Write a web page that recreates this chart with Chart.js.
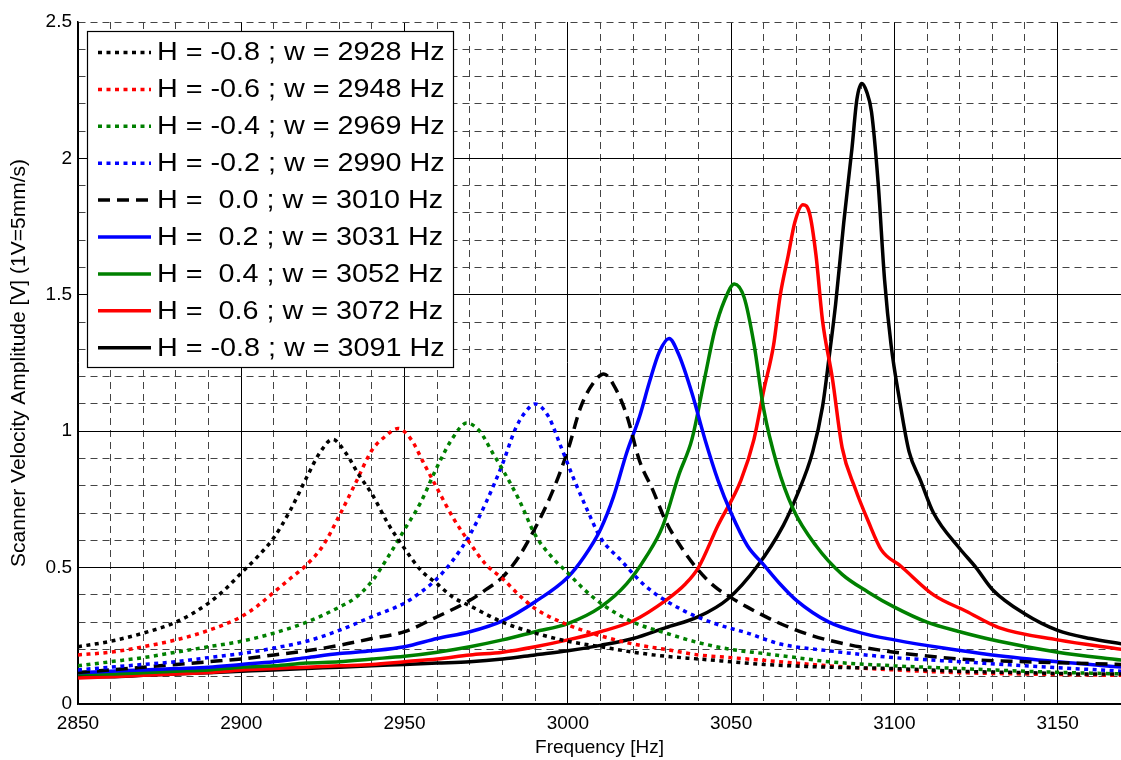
<!DOCTYPE html>
<html>
<head>
<meta charset="utf-8">
<title>Scanner velocity vs frequency</title>
<script src="https://cdn.jsdelivr.net/npm/chart.js@4"></script>
<style>
    body { margin: 0; background: #fff; }
    canvas { display: block; }
</style>
</head>
<body>
<canvas id="chart" width="1121" height="760"></canvas>
<script>
// 📊 data: [frequency Hz, amplitude V]
const curveM08 = [[2850,0.21],[2860,0.23],[2870,0.26],[2880,0.30],[2890,0.37],[2895,0.42],[2900,0.48],[2905,0.54],[2910,0.61],[2915,0.71],[2920,0.83],[2924,0.92],[2928,0.97],[2932,0.92],[2936,0.84],[2940,0.77],[2945,0.66],[2950,0.57],[2955,0.49],[2960,0.44],[2965,0.39],[2970,0.36],[2980,0.30],[2990,0.26],[3000,0.23],[3010,0.21],[3020,0.19],[3030,0.175],[3040,0.165],[3050,0.155],[3060,0.145],[3080,0.135],[3100,0.13],[3120,0.12],[3140,0.115],[3160,0.11],[3170,0.11]];
const curveM06 = [[2850,0.18],[2860,0.19],[2870,0.21],[2880,0.235],[2890,0.27],[2900,0.32],[2905,0.36],[2910,0.41],[2915,0.46],[2920,0.51],[2925,0.58],[2930,0.69],[2935,0.81],[2940,0.93],[2944,0.98],[2948,1.01],[2952,0.97],[2956,0.88],[2960,0.79],[2965,0.68],[2970,0.59],[2975,0.51],[2980,0.46],[2985,0.40],[2990,0.35],[3000,0.29],[3010,0.25],[3020,0.22],[3030,0.20],[3040,0.18],[3050,0.17],[3060,0.16],[3080,0.14],[3100,0.125],[3120,0.115],[3140,0.11],[3170,0.105]];
const curveM04 = [[2850,0.14],[2860,0.155],[2870,0.17],[2880,0.19],[2890,0.21],[2900,0.23],[2910,0.26],[2920,0.30],[2930,0.355],[2935,0.39],[2940,0.45],[2945,0.54],[2950,0.64],[2955,0.74],[2960,0.87],[2965,0.98],[2969,1.03],[2973,1.0],[2977,0.92],[2980,0.86],[2985,0.75],[2990,0.62],[2995,0.54],[3000,0.48],[3005,0.42],[3010,0.37],[3020,0.30],[3030,0.26],[3040,0.225],[3050,0.20],[3060,0.185],[3070,0.17],[3080,0.155],[3100,0.14],[3120,0.13],[3140,0.12],[3170,0.11]];
const curveM02 = [[2850,0.125],[2860,0.135],[2870,0.145],[2880,0.155],[2890,0.17],[2900,0.185],[2910,0.205],[2920,0.23],[2930,0.27],[2940,0.32],[2950,0.37],[2955,0.41],[2960,0.46],[2965,0.53],[2970,0.62],[2975,0.74],[2980,0.88],[2984,1.01],[2987,1.07],[2990,1.10],[2994,1.055],[2998,0.94],[3002,0.82],[3006,0.71],[3010,0.61],[3016,0.53],[3024,0.43],[3035,0.345],[3045,0.295],[3055,0.26],[3065,0.22],[3080,0.195],[3100,0.17],[3120,0.155],[3140,0.14],[3170,0.12]];
const curve00 = [[2850,0.115],[2860,0.125],[2870,0.135],[2880,0.145],[2890,0.155],[2900,0.165],[2910,0.18],[2920,0.195],[2930,0.215],[2940,0.24],[2950,0.265],[2960,0.32],[2970,0.38],[2975,0.42],[2980,0.465],[2985,0.54],[2990,0.645],[2995,0.77],[3000,0.93],[3004,1.09],[3008,1.18],[3011,1.21],[3014,1.17],[3018,1.06],[3022,0.89],[3026,0.785],[3030,0.67],[3035,0.57],[3040,0.49],[3045,0.43],[3050,0.39],[3055,0.355],[3065,0.295],[3075,0.25],[3085,0.22],[3100,0.19],[3120,0.165],[3140,0.155],[3170,0.145]];
const curveP02 = [[2850,0.115],[2860,0.12],[2870,0.125],[2880,0.13],[2890,0.135],[2900,0.145],[2910,0.155],[2920,0.17],[2930,0.185],[2940,0.195],[2950,0.21],[2960,0.24],[2970,0.265],[2980,0.305],[2990,0.375],[3000,0.465],[3005,0.54],[3010,0.64],[3014,0.76],[3018,0.92],[3022,1.055],[3025,1.18],[3028,1.29],[3031,1.34],[3034,1.28],[3038,1.14],[3042,0.97],[3046,0.82],[3050,0.70],[3055,0.58],[3060,0.51],[3065,0.44],[3070,0.38],[3080,0.30],[3090,0.26],[3100,0.235],[3115,0.205],[3130,0.18],[3150,0.155],[3170,0.135]];
const curveP04 = [[2850,0.11],[2860,0.11],[2870,0.115],[2880,0.12],[2890,0.125],[2900,0.135],[2910,0.14],[2920,0.15],[2930,0.155],[2940,0.165],[2950,0.175],[2960,0.19],[2970,0.21],[2980,0.235],[2990,0.265],[3000,0.295],[3010,0.355],[3018,0.44],[3024,0.54],[3029,0.65],[3034,0.84],[3038,0.97],[3042,1.20],[3045,1.37],[3048,1.48],[3051,1.54],[3054,1.49],[3057,1.32],[3060,1.08],[3064,0.88],[3069,0.715],[3076,0.58],[3084,0.475],[3092,0.41],[3100,0.355],[3110,0.30],[3120,0.265],[3132,0.23],[3150,0.19],[3170,0.16]];
const curveP06 = [[2850,0.095],[2860,0.10],[2870,0.105],[2880,0.11],[2890,0.115],[2900,0.125],[2910,0.13],[2920,0.135],[2930,0.14],[2940,0.145],[2950,0.155],[2960,0.165],[2970,0.18],[2980,0.19],[2990,0.21],[3000,0.235],[3010,0.265],[3020,0.305],[3030,0.38],[3036,0.44],[3040,0.50],[3046,0.655],[3053,0.82],[3057,0.97],[3060,1.15],[3063,1.315],[3065,1.495],[3067.5,1.645],[3069.5,1.765],[3072,1.83],[3074,1.80],[3076,1.645],[3078,1.405],[3081,1.195],[3084,0.94],[3088,0.79],[3092,0.67],[3096,0.565],[3102,0.505],[3112,0.40],[3122,0.34],[3132,0.28],[3150,0.235],[3170,0.20]];
const curveP08 = [[2850,0.10],[2860,0.10],[2870,0.105],[2880,0.11],[2890,0.115],[2900,0.12],[2910,0.125],[2920,0.13],[2930,0.135],[2940,0.14],[2950,0.145],[2960,0.15],[2970,0.155],[2980,0.165],[2990,0.18],[3000,0.195],[3010,0.215],[3020,0.24],[3030,0.28],[3040,0.32],[3049,0.385],[3058,0.505],[3066,0.655],[3070,0.76],[3075,0.925],[3078,1.09],[3080,1.27],[3082,1.465],[3084.5,1.765],[3087,2.035],[3088.5,2.215],[3090,2.275],[3091.5,2.245],[3093,2.17],[3095,1.915],[3097,1.555],[3099,1.315],[3101.5,1.12],[3104.5,0.925],[3108,0.82],[3112,0.70],[3120,0.57],[3125,0.50],[3130,0.42],[3140,0.33],[3150,0.27],[3160,0.24],[3170,0.22]];

const seriesLabels = [
    "H = -0.8 ; w = 2928 Hz",
    "H = -0.6 ; w = 2948 Hz",
    "H = -0.4 ; w = 2969 Hz",
    "H = -0.2 ; w = 2990 Hz",
    "H =  0.0 ; w = 3010 Hz",
    "H =  0.2 ; w = 3031 Hz",
    "H =  0.4 ; w = 3052 Hz",
    "H =  0.6 ; w = 3072 Hz",
    "H = -0.8 ; w = 3091 Hz"
];
const seriesData = [curveM08, curveM06, curveM04, curveM02, curve00, curveP02, curveP04, curveP06, curveP08];

// axis ranges / ticks
const xMin = 2850, xMax = 3169.4, xStep = 10, xLabelEvery = 50;
const yMin = 0, yMax = 2.5, yStep = 0.1, yLabelEvery = 0.5;

// styles
const colors = ["#000000", "#ff0000", "#008000", "#0000ff", "#000000", "#0000ff", "#008000", "#ff0000", "#000000"];
const DOT = [4, 4.5];
const DASH = [12, 7];
const dashes = [DOT, DOT, DOT, DOT, DASH, [], [], [], []];
const FONT = "'Liberation Sans', Arial, sans-serif";

const isMajorX = v => Math.abs(v % xLabelEvery) < 1e-6;
const isMajorY = v => Math.abs(v / yLabelEvery - Math.round(v / yLabelEvery)) < 1e-6;
const onStepX = v => Math.abs(v % xStep) < 1e-6;

// 🧾 legend drawn inside the plot, like the original
const boxLegend = {
    id: "boxLegend",
    afterDraw(chart) {
        const ctx = chart.ctx;
        const x0 = 87, y0 = 31, w = 366, h = 336;
        const rowH = 36.9, firstRow = 52.5;

        ctx.save();
        ctx.fillStyle = "#fff";
        ctx.fillRect(x0, y0, w, h);
        ctx.strokeStyle = "#000";
        ctx.lineWidth = 1.2;
        ctx.strokeRect(x0 + 0.5, y0 + 0.5, w, h);

        chart.data.datasets.forEach((ds, i) => {
            const cy = firstRow + i * rowH;

            ctx.beginPath();
            ctx.setLineDash(ds.borderDash);
            ctx.strokeStyle = ds.borderColor;
            ctx.lineWidth = ds.borderWidth;
            ctx.moveTo(98, cy);
            ctx.lineTo(151, cy);
            ctx.stroke();
            ctx.setLineDash([]);

            ctx.save();
            ctx.translate(157, cy + 1);
            ctx.scale(1.15, 1);
            ctx.fillStyle = "#000";
            ctx.font = "25px " + FONT;
            ctx.textBaseline = "middle";
            ctx.fillText(ds.label, 0, 0);
            ctx.restore();
        });
        ctx.restore();
    }
};

window.onload = function () {
    const ctx = document.getElementById("chart").getContext("2d");

    const datasets = seriesData.map((pts, i) => ({
        label: seriesLabels[i],
        data: pts.map(p => ({ x: p[0], y: p[1] })),
        borderColor: colors[i],
        borderWidth: 3.5,
        borderDash: dashes[i],
        borderCapStyle: "butt",
        pointRadius: 0,
        fill: false,
        cubicInterpolationMode: "monotone"
    }));

    new Chart(ctx, {
        type: "line",
        data: { datasets: datasets },
        options: {
            responsive: false,
            animation: false,
            devicePixelRatio: 1,
            layout: { padding: { top: 22, right: 0, left: 0, bottom: 0 } },
            plugins: {
                legend: { display: false },
                tooltip: { enabled: false }
            },
            scales: {
                x: {
                    type: "linear",
                    min: xMin,
                    max: xMax,
                    afterFit: s => {
                        s.height = 56;
                        s.paddingRight = 0;
                        s.paddingLeft = 0;
                    },
                    ticks: {
                        stepSize: xStep,
                        autoSkip: false,
                        maxTicksLimit: 100,
                        maxRotation: 0,
                        padding: 8,
                        color: "#000",
                        font: { family: FONT, size: 19 },
                        callback: v => isMajorX(v) ? String(v) : ""
                    },
                    grid: {
                        drawTicks: false,
                        lineWidth: 1,
                        color: c => {
                            if (!c.tick || !onStepX(c.tick.value)) return "rgba(0,0,0,0)";
                            return isMajorX(c.tick.value) ? "#000" : "#444";
                        }
                    },
                    border: {
                        display: true,
                        color: "#000",
                        width: 1.5,
                        dash: c => (c.tick && !isMajorX(c.tick.value)) ? [7, 5] : []
                    },
                    title: {
                        display: true,
                        text: "Frequency [Hz]",
                        color: "#000",
                        font: { family: FONT, size: 19 },
                        padding: { top: 0, bottom: 1 }
                    }
                },
                y: {
                    type: "linear",
                    min: yMin,
                    max: yMax,
                    afterFit: s => { s.width = 78; },
                    ticks: {
                        stepSize: yStep,
                        autoSkip: false,
                        maxTicksLimit: 100,
                        padding: 6,
                        color: "#000",
                        font: { family: FONT, size: 19 },
                        callback: v => isMajorY(v) ? String(Math.round(v * 10) / 10) : ""
                    },
                    grid: {
                        drawTicks: false,
                        lineWidth: 1,
                        color: c => (c.tick && isMajorY(c.tick.value) && c.tick.value < yMax) ? "#000" : "#444"
                    },
                    border: {
                        display: true,
                        color: "#000",
                        width: 1.5,
                        dash: c => (c.tick && (!isMajorY(c.tick.value) || c.tick.value >= yMax)) ? [7, 5] : []
                    },
                    title: {
                        display: true,
                        text: "Scanner Velocity Amplitude [V] (1V=5mm/s)",
                        color: "#000",
                        font: { family: FONT, size: 21 },
                        padding: { top: 7, bottom: 0 }
                    }
                }
            }
        },
        plugins: [boxLegend]
    });
};
</script>
</body>
</html>
